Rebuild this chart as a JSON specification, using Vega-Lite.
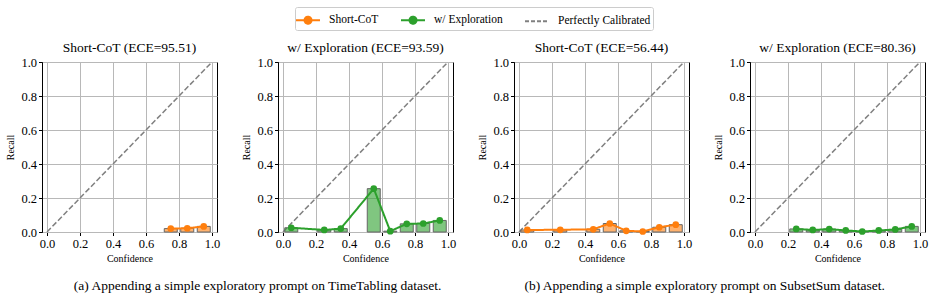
{
  "$schema": "https://vega.github.io/schema/vega-lite/v6.json",
  "padding": {"left": 5, "top": 6, "right": 5, "bottom": 5},
  "datasets": {
    "cal": [
      {"ds": "TimeTabling", "panel": "Short-CoT (ECE=95.51)", "method": "Short-CoT", "conf": 0.75, "recall": 0.02},
      {"ds": "TimeTabling", "panel": "Short-CoT (ECE=95.51)", "method": "Short-CoT", "conf": 0.85, "recall": 0.022},
      {"ds": "TimeTabling", "panel": "Short-CoT (ECE=95.51)", "method": "Short-CoT", "conf": 0.95, "recall": 0.033},
      {"ds": "TimeTabling", "panel": "w/ Exploration (ECE=93.59)", "method": "w/ Exploration", "conf": 0.05, "recall": 0.025},
      {"ds": "TimeTabling", "panel": "w/ Exploration (ECE=93.59)", "method": "w/ Exploration", "conf": 0.25, "recall": 0.012},
      {"ds": "TimeTabling", "panel": "w/ Exploration (ECE=93.59)", "method": "w/ Exploration", "conf": 0.35, "recall": 0.02},
      {"ds": "TimeTabling", "panel": "w/ Exploration (ECE=93.59)", "method": "w/ Exploration", "conf": 0.55, "recall": 0.255},
      {"ds": "TimeTabling", "panel": "w/ Exploration (ECE=93.59)", "method": "w/ Exploration", "conf": 0.65, "recall": 0.005},
      {"ds": "TimeTabling", "panel": "w/ Exploration (ECE=93.59)", "method": "w/ Exploration", "conf": 0.75, "recall": 0.048},
      {"ds": "TimeTabling", "panel": "w/ Exploration (ECE=93.59)", "method": "w/ Exploration", "conf": 0.85, "recall": 0.05},
      {"ds": "TimeTabling", "panel": "w/ Exploration (ECE=93.59)", "method": "w/ Exploration", "conf": 0.95, "recall": 0.068},
      {"ds": "SubsetSum", "panel": "Short-CoT (ECE=56.44)", "method": "Short-CoT", "conf": 0.05, "recall": 0.012},
      {"ds": "SubsetSum", "panel": "Short-CoT (ECE=56.44)", "method": "Short-CoT", "conf": 0.25, "recall": 0.013},
      {"ds": "SubsetSum", "panel": "Short-CoT (ECE=56.44)", "method": "Short-CoT", "conf": 0.45, "recall": 0.016},
      {"ds": "SubsetSum", "panel": "Short-CoT (ECE=56.44)", "method": "Short-CoT", "conf": 0.55, "recall": 0.05},
      {"ds": "SubsetSum", "panel": "Short-CoT (ECE=56.44)", "method": "Short-CoT", "conf": 0.65, "recall": 0.007},
      {"ds": "SubsetSum", "panel": "Short-CoT (ECE=56.44)", "method": "Short-CoT", "conf": 0.75, "recall": 0.003},
      {"ds": "SubsetSum", "panel": "Short-CoT (ECE=56.44)", "method": "Short-CoT", "conf": 0.85, "recall": 0.028},
      {"ds": "SubsetSum", "panel": "Short-CoT (ECE=56.44)", "method": "Short-CoT", "conf": 0.95, "recall": 0.043},
      {"ds": "SubsetSum", "panel": "w/ Exploration (ECE=80.36)", "method": "w/ Exploration", "conf": 0.25, "recall": 0.018},
      {"ds": "SubsetSum", "panel": "w/ Exploration (ECE=80.36)", "method": "w/ Exploration", "conf": 0.35, "recall": 0.012},
      {"ds": "SubsetSum", "panel": "w/ Exploration (ECE=80.36)", "method": "w/ Exploration", "conf": 0.45, "recall": 0.017},
      {"ds": "SubsetSum", "panel": "w/ Exploration (ECE=80.36)", "method": "w/ Exploration", "conf": 0.55, "recall": 0.009},
      {"ds": "SubsetSum", "panel": "w/ Exploration (ECE=80.36)", "method": "w/ Exploration", "conf": 0.65, "recall": 0.003},
      {"ds": "SubsetSum", "panel": "w/ Exploration (ECE=80.36)", "method": "w/ Exploration", "conf": 0.75, "recall": 0.009},
      {"ds": "SubsetSum", "panel": "w/ Exploration (ECE=80.36)", "method": "w/ Exploration", "conf": 0.85, "recall": 0.015},
      {"ds": "SubsetSum", "panel": "w/ Exploration (ECE=80.36)", "method": "w/ Exploration", "conf": 0.95, "recall": 0.033},
      {"ds": "TimeTabling", "panel": "Short-CoT (ECE=95.51)", "method": "Perfectly Calibrated", "conf": 0, "recall": 0},
      {"ds": "TimeTabling", "panel": "Short-CoT (ECE=95.51)", "method": "Perfectly Calibrated", "conf": 1, "recall": 1},
      {"ds": "TimeTabling", "panel": "w/ Exploration (ECE=93.59)", "method": "Perfectly Calibrated", "conf": 0, "recall": 0},
      {"ds": "TimeTabling", "panel": "w/ Exploration (ECE=93.59)", "method": "Perfectly Calibrated", "conf": 1, "recall": 1},
      {"ds": "SubsetSum", "panel": "Short-CoT (ECE=56.44)", "method": "Perfectly Calibrated", "conf": 0, "recall": 0},
      {"ds": "SubsetSum", "panel": "Short-CoT (ECE=56.44)", "method": "Perfectly Calibrated", "conf": 1, "recall": 1},
      {"ds": "SubsetSum", "panel": "w/ Exploration (ECE=80.36)", "method": "Perfectly Calibrated", "conf": 0, "recall": 0},
      {"ds": "SubsetSum", "panel": "w/ Exploration (ECE=80.36)", "method": "Perfectly Calibrated", "conf": 1, "recall": 1}
    ]
  },
  "config": {
    "font": "Liberation Serif",
    "view": {"stroke": "black", "strokeWidth": 1},
    "axis": {
      "labelFont": "Liberation Serif", "labelFontSize": 12.5, "labelColor": "black", "labelOverlap": false,
      "titleFont": "Liberation Serif", "titleFontSize": 10, "titleFontWeight": "normal", "titleColor": "black",
      "gridColor": "#b8b8b8", "gridWidth": 1, "domainColor": "black", "tickColor": "black",
      "tickSize": 3.5, "labelPadding": 2, "tickCount": 6
    },
    "header": {"labelFont": "Liberation Serif", "labelFontSize": 13.5, "labelFontWeight": "normal", "labelColor": "black", "labelPadding": 8},
    "title": {"font": "Liberation Serif", "fontSize": 13.5, "fontWeight": "normal", "color": "black"},
    "legend": {"orient": "none", "legendX": 253, "legendY": -55, "direction": "horizontal"}
  },
  "spacing": 21,
  "hconcat": [
    {
      "data": {"name": "cal"},
      "transform": [{"filter": "datum.ds === 'TimeTabling'"}],
      "title": {"text": "(a) Appending a simple exploratory prompt on TimeTabling dataset.", "orient": "bottom", "anchor": "middle", "offset": 16, "dx": 27, "font": "Liberation Serif", "fontWeight": "normal"},
      "facet": {"column": {"field": "panel", "type": "nominal", "sort": ["Short-CoT (ECE=95.51)", "w/ Exploration (ECE=93.59)"], "header": {"title": null, "labelFont": "Liberation Serif", "labelFontWeight": "normal", "labelFontSize": 13.5, "labelPadding": 8}}},
      "spacing": 61,
      "bounds": "flush",
      "resolve": {"axis": {"y": "independent"}},
      "spec": {
        "width": 175, "height": 170,
        "layer": [
          {
            "transform": [{"filter": "datum.method === 'Perfectly Calibrated'"}],
            "mark": {"type": "line", "color": "#808080", "strokeWidth": 1.5, "strokeDash": [5.5, 2.4]},
            "encoding": {
              "x": {"field": "conf", "type": "quantitative", "scale": {"domain": [0, 1], "nice": false}, "axis": {"title": "Confidence", "values": [0, 0.2, 0.4, 0.6, 0.8, 1], "tickCount": 6, "format": ".1f", "titlePadding": 3, "labelFont": "Liberation Serif", "titleFont": "Liberation Serif"}},
              "y": {"field": "recall", "type": "quantitative", "scale": {"domain": [0, 1], "nice": false}, "axis": {"title": "Recall", "values": [0, 0.2, 0.4, 0.6, 0.8, 1], "tickCount": 6, "format": ".1f", "titlePadding": 5, "labelFont": "Liberation Serif", "titleFont": "Liberation Serif"}}
            }
          },
          {
            "transform": [{"filter": "datum.method !== 'Perfectly Calibrated'"}],
            "mark": {"type": "bar", "size": 13, "fillOpacity": 0.6, "stroke": "#666666", "strokeWidth": 1},
            "encoding": {
              "x": {"field": "conf", "type": "quantitative"},
              "y": {"field": "recall", "type": "quantitative"},
              "fill": {"field": "method", "type": "nominal", "scale": {"domain": ["Short-CoT", "w/ Exploration"], "range": ["#ff7f0e", "#2ca02c"]}, "legend": null}
            }
          },
          {
            "transform": [{"filter": "datum.method !== 'Perfectly Calibrated'"}],
            "mark": {"type": "line", "strokeWidth": 2},
            "encoding": {
              "x": {"field": "conf", "type": "quantitative"},
              "y": {"field": "recall", "type": "quantitative"},
              "color": {"field": "method", "type": "nominal", "title": null, "scale": {"domain": ["Short-CoT", "w/ Exploration", "Perfectly Calibrated"], "range": ["#ff7f0e", "#2ca02c", "#808080"]},
                "legend": {"title": null, "strokeColor": "#cccccc", "fillColor": "white", "padding": 2, "cornerRadius": 2, "labelFont": "Liberation Serif", "labelFontSize": 11.5, "labelColor": "black", "labelOffset": 10, "columnPadding": 18, "symbolSize": 400, "symbolStrokeWidth": 2,
                  "encode": {"symbols": {"update": {
                    "shape": [{"test": "datum.value === 'Perfectly Calibrated'", "value": "M-1.2,0H1.2"}, {"value": "M-1.2,0H1.2M-0.35,0A0.35,0.35,0,1,1,0.35,0A0.35,0.35,0,1,1,-0.35,0Z"}],
                    "fill": [{"test": "datum.value === 'Perfectly Calibrated'", "value": "transparent"}, {"scale": "color", "field": "value"}]
                  }}}}},
              "strokeDash": {"field": "method", "type": "nominal", "title": null, "scale": {"domain": ["Short-CoT", "w/ Exploration", "Perfectly Calibrated"], "range": [[1, 0], [1, 0], [4, 2]]}}
            }
          },
          {
            "transform": [{"filter": "datum.method !== 'Perfectly Calibrated'"}],
            "mark": {"type": "point", "filled": true, "size": 45, "opacity": 1, "strokeWidth": 0},
            "encoding": {
              "x": {"field": "conf", "type": "quantitative"},
              "y": {"field": "recall", "type": "quantitative"},
              "fill": {"field": "method", "type": "nominal", "scale": {"domain": ["Short-CoT", "w/ Exploration"], "range": ["#ff7f0e", "#2ca02c"]}, "legend": null}
            }
          }
        ]
      }
    },
    {
      "data": {"name": "cal"},
      "transform": [{"filter": "datum.ds === 'SubsetSum'"}],
      "title": {"text": "(b) Appending a simple exploratory prompt on SubsetSum dataset.", "orient": "bottom", "anchor": "middle", "offset": 16, "dx": 2, "font": "Liberation Serif", "fontWeight": "normal"},
      "facet": {"column": {"field": "panel", "type": "nominal", "sort": ["Short-CoT (ECE=56.44)", "w/ Exploration (ECE=80.36)"], "header": {"title": null, "labelFont": "Liberation Serif", "labelFontWeight": "normal", "labelFontSize": 13.5, "labelPadding": 8}}},
      "spacing": 61,
      "bounds": "flush",
      "resolve": {"axis": {"y": "independent"}},
      "spec": {
        "width": 175, "height": 170,
        "layer": [
          {
            "transform": [{"filter": "datum.method === 'Perfectly Calibrated'"}],
            "mark": {"type": "line", "color": "#808080", "strokeWidth": 1.5, "strokeDash": [5.5, 2.4]},
            "encoding": {
              "x": {"field": "conf", "type": "quantitative", "scale": {"domain": [0, 1], "nice": false}, "axis": {"title": "Confidence", "values": [0, 0.2, 0.4, 0.6, 0.8, 1], "tickCount": 6, "format": ".1f", "titlePadding": 3, "labelFont": "Liberation Serif", "titleFont": "Liberation Serif"}},
              "y": {"field": "recall", "type": "quantitative", "scale": {"domain": [0, 1], "nice": false}, "axis": {"title": "Recall", "values": [0, 0.2, 0.4, 0.6, 0.8, 1], "tickCount": 6, "format": ".1f", "titlePadding": 5, "labelFont": "Liberation Serif", "titleFont": "Liberation Serif"}}
            }
          },
          {
            "transform": [{"filter": "datum.method !== 'Perfectly Calibrated'"}],
            "mark": {"type": "bar", "size": 13, "fillOpacity": 0.6, "stroke": "#666666", "strokeWidth": 1},
            "encoding": {
              "x": {"field": "conf", "type": "quantitative"},
              "y": {"field": "recall", "type": "quantitative"},
              "fill": {"field": "method", "type": "nominal", "scale": {"domain": ["Short-CoT", "w/ Exploration"], "range": ["#ff7f0e", "#2ca02c"]}, "legend": null}
            }
          },
          {
            "transform": [{"filter": "datum.method !== 'Perfectly Calibrated'"}],
            "mark": {"type": "line", "strokeWidth": 2},
            "encoding": {
              "x": {"field": "conf", "type": "quantitative"},
              "y": {"field": "recall", "type": "quantitative"},
              "color": {"field": "method", "type": "nominal", "title": null, "scale": {"domain": ["Short-CoT", "w/ Exploration", "Perfectly Calibrated"], "range": ["#ff7f0e", "#2ca02c", "#808080"]},
                "legend": {"title": null, "strokeColor": "#cccccc", "fillColor": "white", "padding": 2, "cornerRadius": 2, "labelFont": "Liberation Serif", "labelFontSize": 11.5, "labelColor": "black", "labelOffset": 10, "columnPadding": 18, "symbolSize": 400, "symbolStrokeWidth": 2,
                  "encode": {"symbols": {"update": {
                    "shape": [{"test": "datum.value === 'Perfectly Calibrated'", "value": "M-1.2,0H1.2"}, {"value": "M-1.2,0H1.2M-0.35,0A0.35,0.35,0,1,1,0.35,0A0.35,0.35,0,1,1,-0.35,0Z"}],
                    "fill": [{"test": "datum.value === 'Perfectly Calibrated'", "value": "transparent"}, {"scale": "color", "field": "value"}]
                  }}}}},
              "strokeDash": {"field": "method", "type": "nominal", "title": null, "scale": {"domain": ["Short-CoT", "w/ Exploration", "Perfectly Calibrated"], "range": [[1, 0], [1, 0], [4, 2]]}}
            }
          },
          {
            "transform": [{"filter": "datum.method !== 'Perfectly Calibrated'"}],
            "mark": {"type": "point", "filled": true, "size": 45, "opacity": 1, "strokeWidth": 0},
            "encoding": {
              "x": {"field": "conf", "type": "quantitative"},
              "y": {"field": "recall", "type": "quantitative"},
              "fill": {"field": "method", "type": "nominal", "scale": {"domain": ["Short-CoT", "w/ Exploration"], "range": ["#ff7f0e", "#2ca02c"]}, "legend": null}
            }
          }
        ]
      }
    }
  ]
}
